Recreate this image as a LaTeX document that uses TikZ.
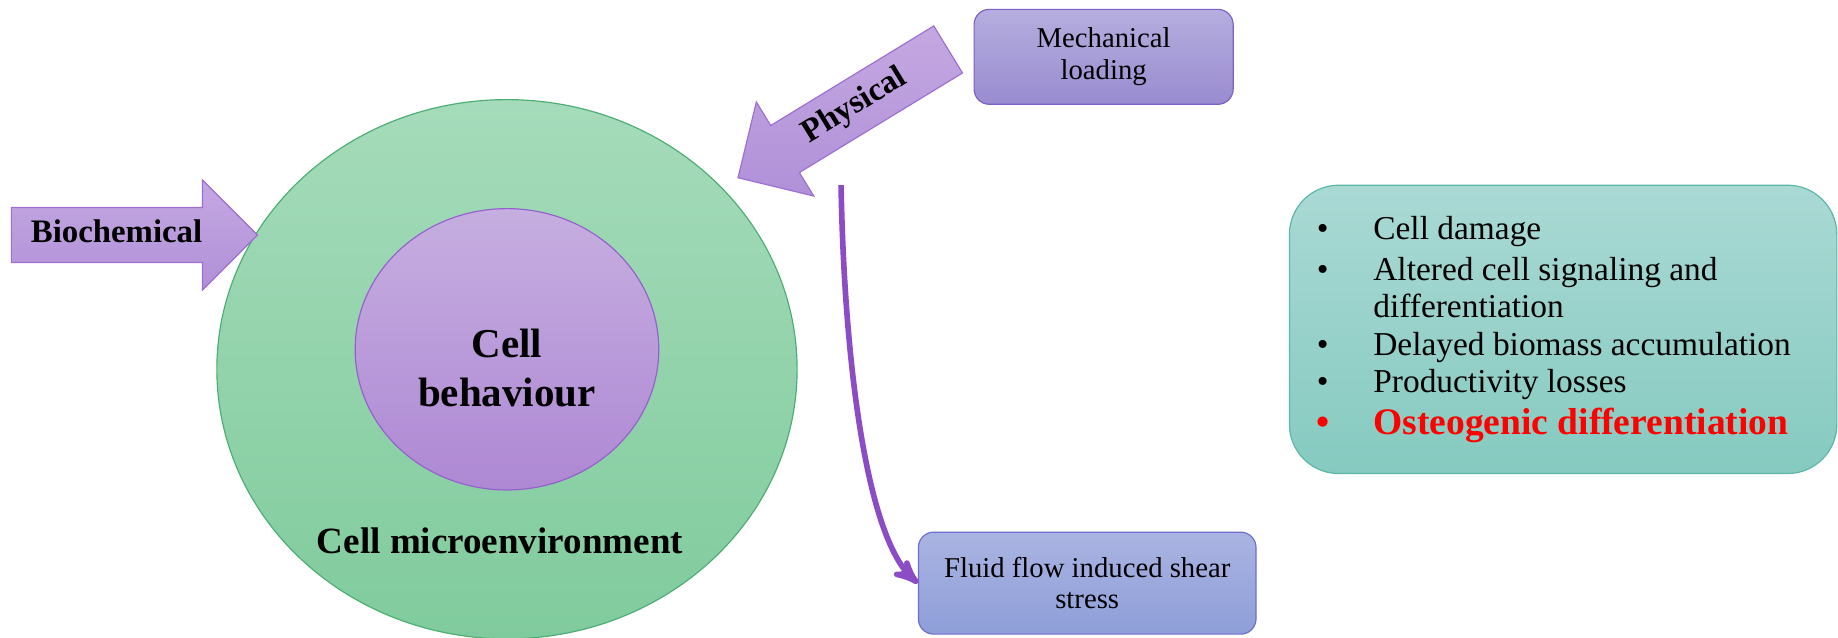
\documentclass[tikz,border=0pt]{standalone}
\usepackage{fontspec}
\setmainfont{Liberation Serif}
\usepackage{tikz}
\usetikzlibrary{arrows,shapes.geometric,shapes.arrows,positioning}

\definecolor{envtop}{HTML}{A5DBBA}
\definecolor{envbot}{HTML}{80CB9D}
\definecolor{envline}{HTML}{4DAE74}
\definecolor{celltop}{HTML}{C6AEE0}
\definecolor{cellbot}{HTML}{AE88D4}
\definecolor{cellline}{HTML}{9561CC}
\definecolor{arrtop}{HTML}{C4A8E1}
\definecolor{arrbot}{HTML}{B090D8}
\definecolor{arrline}{HTML}{9D6FD2}
\definecolor{mechtop}{HTML}{B5AEDE}
\definecolor{mechbot}{HTML}{998CD0}
\definecolor{mechline}{HTML}{7E5FC8}
\definecolor{fluidtop}{HTML}{AAB4E2}
\definecolor{fluidbot}{HTML}{8E9ED8}
\definecolor{fluidline}{HTML}{6E6ECC}
\definecolor{listtop}{HTML}{AAD9D4}
\definecolor{listbot}{HTML}{85CAC0}
\definecolor{listline}{HTML}{5CB7A7}
\definecolor{flowcol}{HTML}{8B4CC5}

\tikzset{
    %Define standard arrow tip
    >=stealth',
    %Define style for the ellipses
    envellipse/.style={
           ellipse,
           draw=envline, line width=0.5pt,
           minimum width=247.5pt,
           minimum height=230pt,
           top color=envtop, bottom color=envbot},
    cellellipse/.style={
           ellipse,
           draw=cellline, line width=0.5pt,
           minimum width=129.5pt,
           minimum height=120pt,
           top color=celltop, bottom color=cellbot},
    %Define style for block arrows
    blockarrow/.style={
           single arrow,
           draw=arrline, line width=0.5pt,
           single arrow head extend=11.75pt,
           minimum width=46.5pt,
           minimum height=105pt,
           inner xsep=0pt,
           inner ysep=5pt,
           text height=9.75pt,
           text depth=3.25pt,
           top color=arrtop, bottom color=arrbot,
           font=\fontsize{14}{16}\selectfont\bfseries},
    %Define style for boxes
    loadbox/.style={
           rectangle,
           rounded corners=6.5pt,
           line width=0.5pt,
           align=center,
           font=\fontsize{12.25}{13.5}\selectfont},
    listbox/.style={
           rectangle,
           rounded corners=21pt,
           draw=listline, line width=0.5pt,
           minimum width=233.5pt,
           minimum height=123pt,
           top color=listtop, bottom color=listbot},
    bigtext/.style={
           align=center,
           inner sep=0pt,
           font=\fontsize{17.5}{21}\selectfont\bfseries},
    % Define arrow style
    flowarrow/.style={
           ->,
           draw=flowcol,
           line width=2.4pt}
}

\begin{document}
\begin{tikzpicture}[x=0.5pt,y=0.5pt]
\useasboundingbox (0,0) rectangle (1568,543.5);
\node[envellipse] (env) at (432.5,228.5) {};
\node[cellellipse] (cell) at (432.5,245.5) {};
\node[bigtext] (beh) at ([yshift=-8pt]cell.center) {Cell\\behaviour};
\node[bigtext, font=\fontsize{15.8}{19}\selectfont\bfseries,
  anchor=base] (micro) at (426.5,71.5) {Cell microenvironment};
\node[blockarrow, anchor=tip] (bio) at (220.4,343) {\hspace*{-3.5pt}Biochemical};
\node[blockarrow, shape border rotate=180, rotate=31.4,
  anchor=tip] (phys) at (629,391.5) {Physical};
\node[loadbox, draw=mechline, top color=mechtop, bottom color=mechbot,
  minimum width=110.5pt, minimum height=40.5pt] (mech) at (941.5,495)
  {Mechanical\\loading};
\node[loadbox, draw=fluidline, top color=fluidtop, bottom color=fluidbot,
  minimum width=144pt, minimum height=43.5pt] (fluid) at (927.5,46)
  {Fluid flow induced shear\\stress};
\node[listbox] (effects) at (1333.5,262.5) {};
\node[anchor=base west, inner sep=0pt,
  font=\fontsize{14.25}{16}\selectfont] (items) at (1123,338.9)
  {\begin{tabular}[t]{@{}l@{\hspace{18.5pt}}l@{}}
   \textbullet & Cell damage\\[1.2pt]
   \textbullet & Altered cell signaling and\\
               & differentiation\\[0.2pt]
   \textbullet & Delayed biomass accumulation\\[-0.3pt]
   \textbullet & Productivity losses\\[1.7pt]
   \color{red}\fontsize{16}{16}\selectfont\bfseries\textbullet
     & \color{red}\fontsize{16}{16}\selectfont\bfseries Osteogenic differentiation
   \end{tabular}};
\coordinate (flowstart) at (717.5,385.5);
\draw[flowarrow] (flowstart) to[out=-89,in=138,out distance=72.75pt,
  in distance=30pt] (fluid.west);
\end{tikzpicture}
\end{document}
